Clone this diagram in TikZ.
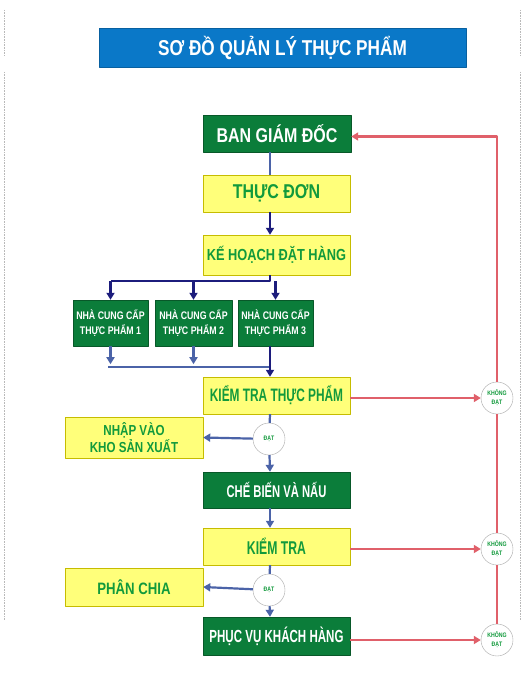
\documentclass[tikz,border=0pt]{standalone}
\usepackage{fontspec}
\setmainfont{Liberation Sans}[FakeStretch=0.8]
\newfontfamily\narrowsans{Liberation Sans}[FakeStretch=0.66]
\usetikzlibrary{arrows.meta}
\definecolor{titleblue}{HTML}{0A78C8}
\definecolor{boxgreen}{HTML}{0B7D3A}
\definecolor{boxyellow}{HTML}{FFFF7A}
\definecolor{txtgreen}{HTML}{129A3C}
\definecolor{navy}{HTML}{1C1C7C}
\definecolor{steel}{HTML}{4B63A8}
\definecolor{failred}{HTML}{E0606A}
\begin{document}
\begin{tikzpicture}[x=1pt,y=-1pt,>={Triangle[length=7pt,width=8pt]},line join=round,
    greenbox/.style={draw=boxgreen!70!black,fill=boxgreen,text=white,font=\bfseries,inner sep=0pt,align=center},
    yellowbox/.style={draw=yellow!50!olive,fill=boxyellow,text=txtgreen,font=\bfseries,inner sep=0pt,align=center},
    okcircle/.style={circle,draw=gray!70,fill=white,minimum size=32pt,inner sep=0pt,text=txtgreen,font=\bfseries\fontsize{6.5}{9}\selectfont,align=center},
    flow/.style={draw=steel,line width=2.2pt},
    navyflow/.style={draw=navy,line width=2.2pt},
    fail/.style={draw=failred,line width=2.2pt}]
    \useasboundingbox (0,0) rectangle (529,692);
    % page edges
    \foreach \x in {4,520}{
        \draw[gray!55,densely dotted,line width=0.6pt] (\x,10)--(\x,55);
        \draw[gray!55,densely dotted,line width=0.6pt] (\x,72)--(\x,620);
    }
    % title
    \node[fill=titleblue,draw=titleblue!80!black,text=white,font=\bfseries\fontsize{21.5}{24}\selectfont,
        minimum width=367pt,minimum height=39pt,inner sep=0pt] (title) at (282.5,47.5) {SƠ ĐỒ QUẢN LÝ THỰC PHẨM};
    % main column
    \node[greenbox,minimum width=148pt,minimum height=37pt,font=\bfseries\fontsize{20}{22}\selectfont] (bgd) at (277,133.5) {BAN GIÁM ĐỐC};
    \node[yellowbox,minimum width=147pt,minimum height=37pt,font=\bfseries\fontsize{20}{22}\selectfont] (td) at (276.5,193.5) {THỰC ĐƠN};
    \node[yellowbox,minimum width=147pt,minimum height=40pt,font=\bfseries\fontsize{16}{18}\selectfont] (kh) at (276.5,255) {KẾ HOẠCH ĐẶT HÀNG};
    \foreach \i/\x/\w in {1/110.5/75,2/193.5/77,3/275.5/75}
        \node[greenbox,minimum width=\w pt,minimum height=46pt,font=\bfseries\fontsize{11}{15}\selectfont] (ncc\i) at (\x,323) {NHÀ CUNG CẤP\\THỰC PHẨM \i};
    \node[yellowbox,minimum width=147pt,minimum height=37pt,font=\narrowsans\bfseries\fontsize{18}{20}\selectfont] (kttp) at (276.5,395.5) {KIỂM TRA THỰC PHẨM};
    \node[okcircle] (dat1) at (269,439) {ĐẠT};
    \node[yellowbox,minimum width=138pt,minimum height=41pt,font=\bfseries\fontsize{14.5}{17}\selectfont] (nhap) at (134,437.5) {NHẬP VÀO\\KHO SẢN XUẤT};
    \node[greenbox,minimum width=147pt,minimum height=36pt,font=\narrowsans\bfseries\fontsize{17}{20}\selectfont] (cbn) at (276.5,490) {CHẾ BIẾN VÀ NẤU};
    \node[yellowbox,minimum width=147pt,minimum height=37pt,font=\narrowsans\bfseries\fontsize{18.5}{20}\selectfont] (kt) at (276.5,546.5) {KIỂM TRA};
    \node[okcircle] (dat2) at (269,590) {ĐẠT};
    \node[yellowbox,minimum width=138pt,minimum height=38pt,font=\bfseries\fontsize{16.5}{19}\selectfont] (pc) at (134,587) {PHÂN CHIA};
    \node[greenbox,minimum width=147pt,minimum height=38pt,font=\narrowsans\bfseries\fontsize{17.5}{20}\selectfont] (pv) at (276.5,636) {PHỤC VỤ KHÁCH HÀNG};
    \foreach \i/\y in {1/398,2/549,3/640}
        \node[okcircle] (kd\i) at (497,\y) {KHÔNG\\ĐẠT};
    % blue flow
    \coordinate (spine) at (270,0);
    \coordinate (split) at (270,281);
    \coordinate (merge) at (108,367);
    \draw[flow] (bgd.south -| spine) -- (td.north -| spine);
    \draw[navyflow,->] (td.south -| spine) -- (kh.north -| spine);
    \draw[navyflow] (kh.south -| spine) -- (split) -- (split -| ncc1);
    \foreach \i in {1,2,3}
        \draw[navyflow,->] (split -| ncc\i) -- (ncc\i.north);
    \foreach \i in {1,2}
        \draw[flow,->] (ncc\i.south) -- ++(0,18);
    \draw[flow] (merge) -- (merge -| spine);
    \draw[navyflow,->] (ncc3.south -| spine) -- (kttp.north -| spine);
    \draw[flow] (kttp.south -| spine) -- (dat1);
    \draw[flow,->] (dat1) -- (nhap.east);
    \draw[flow,->] (dat1) -- (cbn.north -| spine);
    \draw[flow,->] (cbn.south -| spine) -- (kt.north -| spine);
    \draw[flow] (kt.south -| spine) -- (dat2);
    \draw[flow,->] (dat2) -- (pc.east);
    \draw[flow,->] (dat2) -- (pv.north -| spine);
    % red loop
    \foreach \b/\i in {kttp/1,kt/2,pv/3}
        \draw[fail,->] (\b.east |- kd\i) -- (kd\i.west);
    \draw[fail] (kd3) -- (kd2);
    \draw[fail] (kd2) -- (kd1);
    \draw[fail,->] (kd1.north) |- ([yshift=-3pt]bgd.east);
\end{tikzpicture}
\end{document}
